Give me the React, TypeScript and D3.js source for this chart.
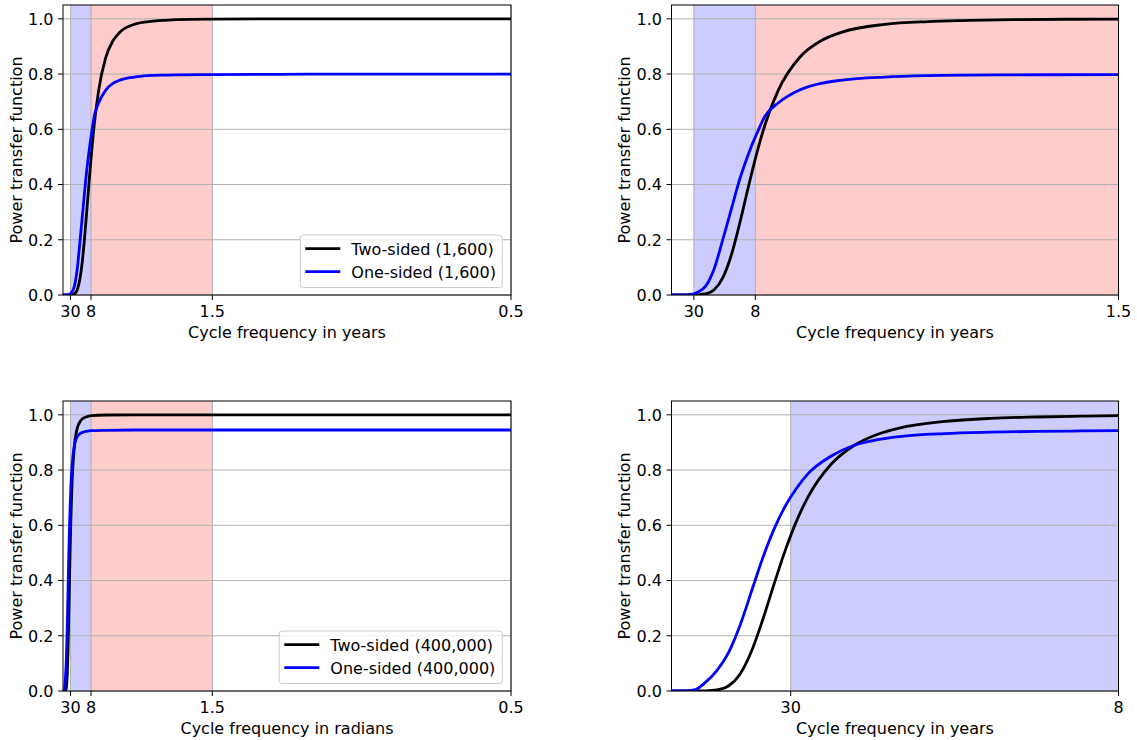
import * as d3 from "d3";

// angular frequency (radians per quarter) and read-off power transfer values
const freqA = [0, 0.02, 0.04, 0.06, 0.08, 0.1, 0.12, 0.14, 0.16, 0.18, 0.2, 0.22, 0.25, 0.3, 0.35, 0.4, 0.5, 0.6, 0.7, 0.8, 1.047, 1.5, 2.0, 2.5, 3.1416];
const twoSidedA = [0, 0, 0, 0.0004, 0.0038, 0.019, 0.062, 0.144, 0.261, 0.391, 0.515, 0.621, 0.741, 0.86, 0.92, 0.952, 0.98, 0.99, 0.994, 0.997, 0.999, 1, 1, 1, 1];
const oneSidedA = [0, 0.0001, 0.001, 0.009, 0.032, 0.095, 0.2, 0.31, 0.42, 0.51, 0.585, 0.65, 0.695, 0.742, 0.766, 0.778, 0.789, 0.794, 0.796, 0.797, 0.798, 0.799, 0.8, 0.8, 0.8];

const freqB = [0, 0.005, 0.01, 0.015, 0.02, 0.025, 0.03, 0.035, 0.04, 0.045, 0.05, 0.055, 0.06, 0.07, 0.08, 0.09, 0.1, 0.12, 0.14, 0.16, 0.18, 0.19635, 0.3, 0.5, 1.0, 2.0, 3.1416];
const twoSidedB = [0, 0, 0, 0.0004, 0.0036, 0.018, 0.06, 0.141, 0.256, 0.386, 0.51, 0.617, 0.703, 0.82, 0.888, 0.928, 0.952, 0.976, 0.987, 0.992, 0.995, 0.997, 0.9993, 0.9999, 1, 1, 1];
const oneSidedB = [0, 0.0003, 0.004, 0.032, 0.075, 0.138, 0.235, 0.357, 0.48, 0.585, 0.67, 0.735, 0.787, 0.85, 0.889, 0.909, 0.921, 0.932, 0.937, 0.94, 0.9415, 0.9425, 0.944, 0.945, 0.945, 0.945, 0.945];

const yTicks = [0, 0.2, 0.4, 0.6, 0.8, 1.0];
const periodTicksWide = [30, 8, 1.5, 0.5];
const periodTicksMid = [30, 8, 1.5];
const periodTicksNarrow = [30, 8];

// period in years -> radians for quarterly data
const toFreq = (p: number) => (2 * Math.PI) / (4 * p);

const FONT = "DejaVu Sans, sans-serif";
const FS = 16;

type PanelProps = {
  id: string;
  left: number;
  right: number;
  top: number;
  bottom: number;
  xMaxPeriod: number;
  ticks: number[];
  blue?: [number, number];
  red?: [number, number];
  freq: number[];
  two: number[];
  one: number[];
  legend?: string[];
  legendW?: number;
  xlabel: string;
};

const Panel = (p: PanelProps) => {
  const x = d3.scaleLinear().domain([0, toFreq(p.xMaxPeriod)]).range([p.left, p.right]);
  const y = d3.scaleLinear().domain([0, 1.05]).range([p.bottom, p.top]);
  const line = (vals: number[]) =>
    d3
      .line<number>()
      .x((_, i) => x(p.freq[i]))
      .y((v) => y(v))
      .curve(d3.curveMonotoneX)(vals) || "";

  const span = (s: [number, number], color: string) => {
    const x0 = x(toFreq(s[0]));
    const x1 = Math.min(x(toFreq(s[1])), p.right);
    return <rect x={x0} y={p.top} width={x1 - x0} height={p.bottom - p.top} fill={color} />;
  };

  const lw = p.legendW || 202;
  const lx = p.right - 8.7 - lw;

  return (
    <g>
      <defs>
        <clipPath id={p.id}>
          <rect x={p.left} y={p.top} width={p.right - p.left} height={p.bottom - p.top} />
        </clipPath>
      </defs>
      {p.blue && span(p.blue, "#ccccff")}
      {p.red && span(p.red, "#ffcccc")}
      {/* grid */}
      {yTicks.map((t) => (
        <line key={"gy" + t} x1={p.left} x2={p.right} y1={y(t)} y2={y(t)} stroke="#b0b0b0" strokeWidth={1} />
      ))}
      {p.ticks.map((t) => (
        <line key={"gx" + t} x1={x(toFreq(t))} x2={x(toFreq(t))} y1={p.top} y2={p.bottom} stroke="#b0b0b0" strokeWidth={1} />
      ))}
      <g clipPath={`url(#${p.id})`}>
        <path d={line(p.two)} fill="none" stroke="#000000" strokeWidth={2.8} />
        <path d={line(p.one)} fill="none" stroke="#0000ff" strokeWidth={2.8} />
      </g>
      <rect x={p.left} y={p.top} width={p.right - p.left} height={p.bottom - p.top} fill="none" stroke="#000" strokeWidth={1} />
      {yTicks.map((t) => (
        <g key={"ty" + t}>
          <line x1={p.left - 5} x2={p.left} y1={y(t)} y2={y(t)} stroke="#000" strokeWidth={1} />
          <text x={p.left - 9.5} y={y(t) + 5.8} textAnchor="end" fontFamily={FONT} fontSize={FS}>
            {t.toFixed(1)}
          </text>
        </g>
      ))}
      {p.ticks.map((t) => (
        <g key={"tx" + t}>
          <line x1={x(toFreq(t))} x2={x(toFreq(t))} y1={p.bottom} y2={p.bottom + 5} stroke="#000" strokeWidth={1} />
          <text x={x(toFreq(t))} y={p.bottom + 22} textAnchor="middle" fontFamily={FONT} fontSize={FS}>
            {t}
          </text>
        </g>
      ))}
      <text x={(p.left + p.right) / 2} y={p.bottom + 43} textAnchor="middle" fontFamily={FONT} fontSize={FS}>
        {p.xlabel}
      </text>
      <text
        transform={`translate(${p.left - 41.5},${(p.top + p.bottom) / 2}) rotate(-90)`}
        textAnchor="middle"
        fontFamily={FONT}
        fontSize={FS}
      >
        Power transfer function
      </text>
      {p.legend && (
        <g>
          <rect x={lx} y={p.bottom - 60} width={lw} height={52.5} rx={3} fill="#fff" fillOpacity={0.8} stroke="#cccccc" strokeWidth={1} />
          {p.legend.map((lab, i) => (
            <g key={lab}>
              <line
                x1={lx + 5}
                x2={lx + 40}
                y1={p.bottom - 46.3 + i * 23}
                y2={p.bottom - 46.3 + i * 23}
                stroke={i === 0 ? "#000000" : "#0000ff"}
                strokeWidth={2.8}
              />
              <text x={lx + 51} y={p.bottom - 40.5 + i * 23} fontFamily={FONT} fontSize={FS}>
                {lab}
              </text>
            </g>
          ))}
        </g>
      )}
    </g>
  );
};

export default function App() {
  return (
    <svg width={1137} height={740} style={{ position: "absolute", left: 0, top: 0, background: "#fff" }}>
      <rect width={1137} height={740} fill="#fff" />
      <Panel
        id="c1"
        left={63}
        right={511}
        top={5}
        bottom={295}
        xMaxPeriod={0.5}
        ticks={periodTicksWide}
        blue={[30, 8]}
        red={[8, 1.5]}
        freq={freqA}
        two={twoSidedA}
        one={oneSidedA}
        legend={["Two-sided (1,600)", "One-sided (1,600)"]}
        legendW={202}
        xlabel="Cycle frequency in years"
      />
      <Panel
        id="c2"
        left={671.5}
        right={1118.5}
        top={5}
        bottom={295}
        xMaxPeriod={1.5}
        ticks={periodTicksMid}
        blue={[30, 8]}
        red={[8, 1.5]}
        freq={freqA}
        two={twoSidedA}
        one={oneSidedA}
        xlabel="Cycle frequency in years"
      />
      <Panel
        id="c3"
        left={63}
        right={511}
        top={401}
        bottom={691}
        xMaxPeriod={0.5}
        ticks={periodTicksWide}
        blue={[30, 8]}
        red={[8, 1.5]}
        freq={freqB}
        two={twoSidedB}
        one={oneSidedB}
        legend={["Two-sided (400,000)", "One-sided (400,000)"]}
        legendW={223}
        xlabel="Cycle frequency in radians"
      />
      <Panel
        id="c4"
        left={671.5}
        right={1118.5}
        top={401}
        bottom={691}
        xMaxPeriod={8}
        ticks={periodTicksNarrow}
        blue={[30, 8]}
        freq={freqB}
        two={twoSidedB}
        one={oneSidedB}
        xlabel="Cycle frequency in years"
      />
    </svg>
  );
}
